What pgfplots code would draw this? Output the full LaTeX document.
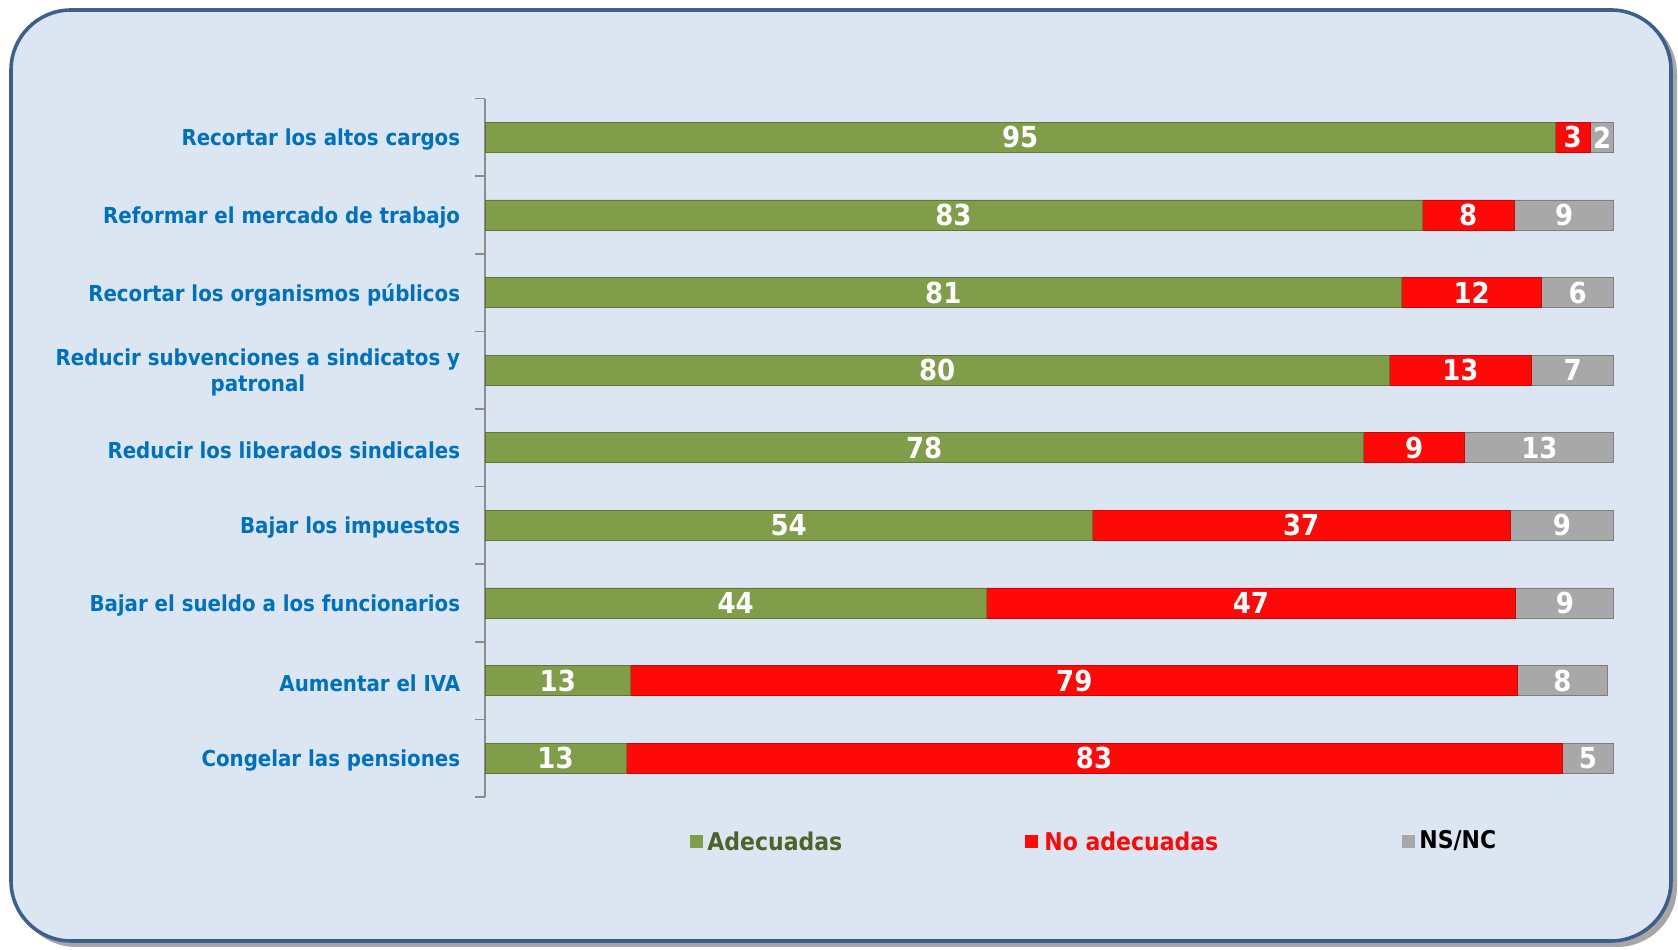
\documentclass[border=0pt]{standalone}
\usepackage{pgfplots}
\pgfplotsset{compat=1.18}
\usepackage{fontspec}
\setmainfont{DejaVu Sans}
\newfontfamily\lbl{DejaVu Sans Condensed Bold}

\definecolor{bgblue}{HTML}{DCE6F2}
\definecolor{frameblue}{HTML}{3D5F8C}
\definecolor{labelblue}{HTML}{0070C0}
\definecolor{cgreen}{HTML}{809D49}
\definecolor{cred}{HTML}{FF0808}
\definecolor{cgray}{HTML}{A8A8A8}
\definecolor{axisgray}{HTML}{8C8C8C}
\definecolor{legreen}{HTML}{4F6228}

\begin{document}
\begin{tikzpicture}
\useasboundingbox (0,0) rectangle (755.1pt,427.5pt);
% background panel, pixel coords of the reference (y down)
\begin{scope}[yshift=427.5pt, x=0.45pt, y=-0.45pt]
  \fill[black!35, rounded corners=27pt] (16,14) rectangle (1677,947);
  \draw[fill=bgblue, draw=frameblue, line width=1.6pt, rounded corners=27pt] (11,10) rectangle (1671,941);
\end{scope}

\begin{axis}[
  at={(218.25pt,68.85pt)}, anchor=south west,
  scale only axis, width=508pt, height=314.3pt,
  xbar stacked, bar width=13.5pt,
  xmin=0, xmax=100, ymin=0.5, ymax=9.5, y dir=reverse,
  enlargelimits=false,
  hide x axis,
  axis y line*=left,
  y axis line style={draw=axisgray, line width=0.7pt},
  ytick={1,...,9},
  yticklabels={Recortar los altos cargos,Reformar el mercado de trabajo,Recortar los organismos públicos,{Reducir subvenciones a sindicatos y\\patronal},Reducir los liberados sindicales,Bajar los impuestos,Bajar el sueldo a los funcionarios,Aumentar el IVA,Congelar las pensiones},
  minor ytick={0.5,1.5,...,9.5},
  major tick length=0pt, minor tick length=4.5pt,
  tick align=outside,
  minor tick style={draw=axisgray, line width=0.7pt},
  yticklabel style={font=\lbl\fontsize{9.9}{12}\selectfont, text=labelblue, align=center, inner sep=0pt, xshift=-11pt, yshift=-1pt},
  point meta=explicit symbolic,
  nodes near coords,
  every node near coord/.append style={font=\lbl\fontsize{13}{15}\selectfont, text=white, anchor=center, inner sep=0pt},
]
\addplot[fill=cgreen, draw=cgreen!75!black] coordinates {
  (94.8,1) [95] (83.0,2) [83] (81.2,3) [81] (80.1,4) [80] (77.8,5) [78]
  (53.8,6) [54] (44.4,7) [44] (12.9,8) [13] (12.5,9) [13]
};
\addplot[fill=cred, draw=cred!80!black] coordinates {
  (3.1,1) [3] (8.2,2) [8] (12.4,3) [12] (12.6,4) [13] (9.0,5) [9]
  (37.0,6) [37] (46.9,7) [47] (78.6,8) [79] (82.9,9) [83]
};
\addplot[fill=cgray, draw=cgray!75!black] coordinates {
  (2.1,1) [2] (8.8,2) [9] (6.4,3) [6] (7.3,4) [7] (13.2,5) [13]
  (9.2,6) [9] (8.7,7) [9] (7.9,8) [8] (4.6,9) [5]
};
\end{axis}

% legend
\begin{scope}[yshift=427.5pt, x=0.45pt, y=-0.45pt, font=\lbl\fontsize{11}{13}\selectfont]
  \fill[cgreen] (690,835) rectangle (703,848);
  \node[anchor=west, inner sep=0pt, text=legreen] at (707,841) {Adecuadas};
  \fill[cred] (1025,835) rectangle (1038,848);
  \node[anchor=west, inner sep=0pt, text=cred] at (1044,841) {No adecuadas};
  \fill[cgray] (1402,835) rectangle (1415,848);
  \node[anchor=west, inner sep=0pt, text=black] at (1419,841) {NS/NC};
\end{scope}
\end{tikzpicture}
\end{document}
